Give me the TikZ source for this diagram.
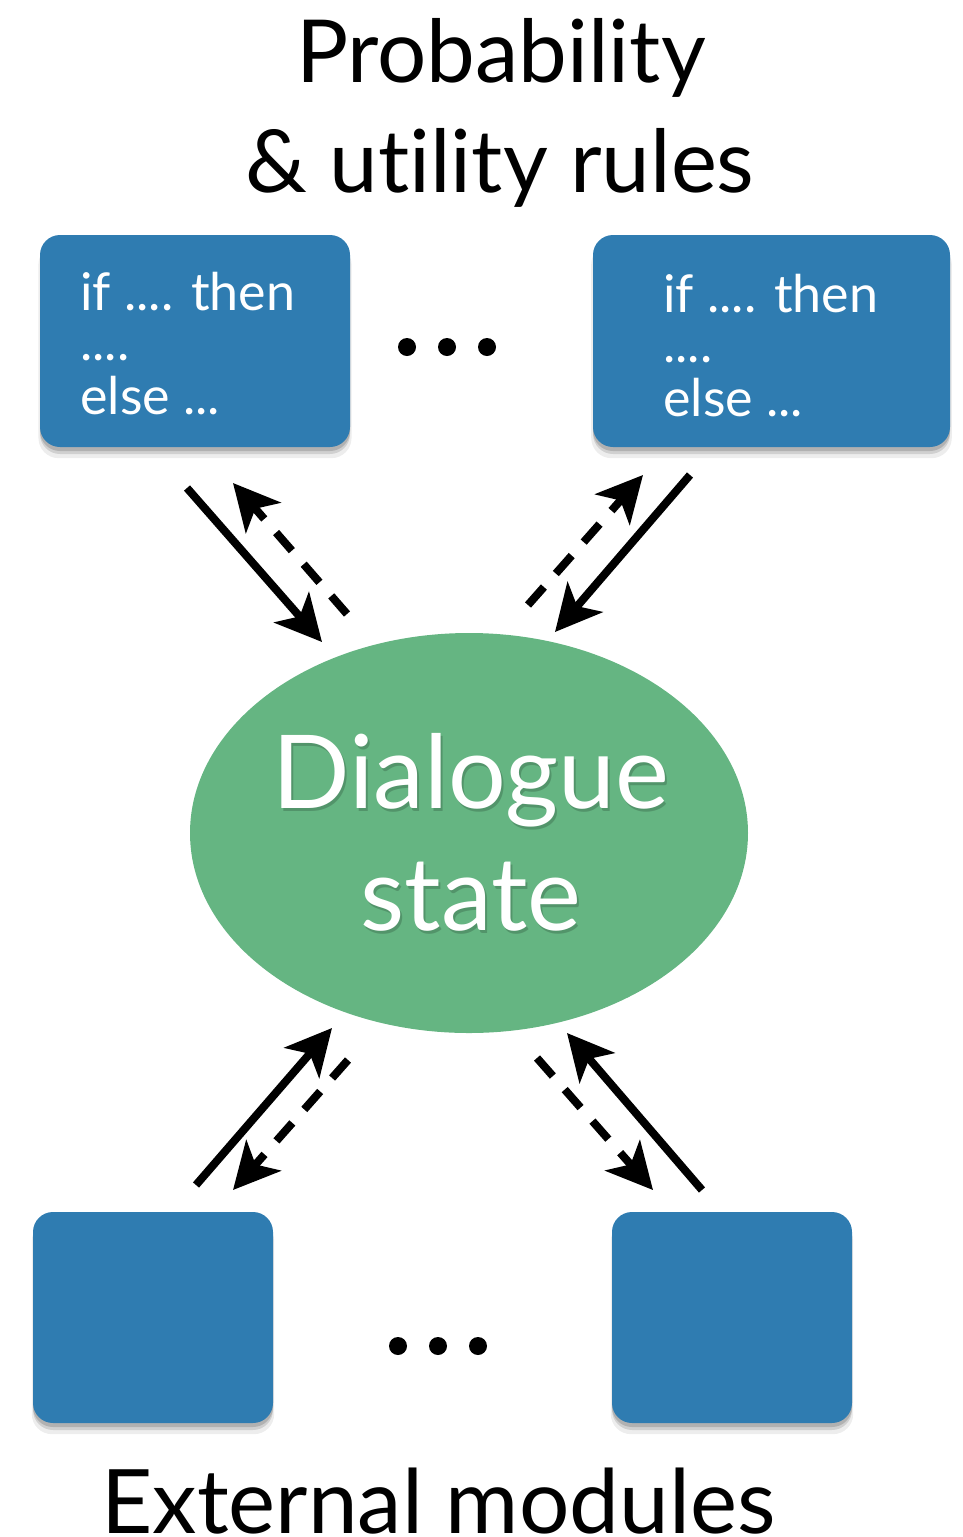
\documentclass[tikz,border=0pt]{standalone}
\usepackage{fontspec}
\setmainfont{Lato}[Ligatures=NoCommon]
\usetikzlibrary{arrows.meta,shadows,shapes.geometric}
\definecolor{boxblue}{RGB}{47,124,177}
\definecolor{stategreen}{RGB}{101,181,130}
\tikzset{
  rulebox/.style={draw=none,fill=boxblue,rounded corners=10pt,inner sep=0pt,
    drop shadow={shadow xshift=0pt,shadow yshift=-5pt,shadow scale=1.01,opacity=0.07,fill=black},
    drop shadow={shadow xshift=0pt,shadow yshift=-3.5pt,opacity=0.12,fill=black},
    drop shadow={shadow xshift=0pt,shadow yshift=-2pt,opacity=0.15,fill=black}},
  boxtext/.style={text=white,font=\fontsize{26}{27}\selectfont,align=left,inner sep=0pt},
  bigtitle/.style={font=\fontsize{43.5}{57}\selectfont,align=center,inner sep=0pt},
  statetext/.style={font=\fontsize{51}{61}\selectfont,anchor=base,inner sep=0pt},
  dotmark/.style={circle,fill=black,inner sep=0pt,minimum size=9pt},
  solidarrow/.style={line width=4pt,-{Stealth[length=23pt,width=23pt,inset=6pt]}},
  dasharrow/.style={line width=4pt,dash pattern=on 12pt off 9pt,-{Stealth[length=23pt,width=23pt,inset=6pt]}},
}
\begin{document}
\begin{tikzpicture}[x=0.5pt,y=-0.5pt]
\useasboundingbox (0,0) rectangle (963,1537);
% title
\node[bigtitle,anchor=base] (t1) at (501,82) {Probability};
\node[bigtitle,anchor=base] (t2) at (500,192) {\& utility rules};
% top boxes
\node[rulebox,minimum width=155pt,minimum height=106pt] (b1) at (195,341) {};
\node[rulebox,minimum width=178.5pt,minimum height=106pt] (b2) at (771.5,341) {};
\node[boxtext,anchor=base west] (b1a) at (80,310) {if .... then};
\node[boxtext,anchor=base west] (b1b) at (80,360) {....};
\node[boxtext,anchor=base west] (b1c) at (80,414) {else ...};
\node[boxtext,anchor=base west] (b2a) at (663,312) {if .... then};
\node[boxtext,anchor=base west] (b2b) at (663,362) {....};
\node[boxtext,anchor=base west] (b2c) at (663,416) {else ...};
% top dots
\node[dotmark] (d1) at (407,347) {};
\node[dotmark] (d2) at (447,347) {};
\node[dotmark] (d3) at (487,347) {};
% ellipse
\node[ellipse,fill=stategreen,minimum width=279pt,minimum height=200pt,inner sep=0pt] (ds) at (469,833) {};
\node[statetext,text=black,opacity=0.18] (ds1s) at (473,811) {Dialogue};
\node[statetext,text=black,opacity=0.18] (ds2s) at (473,933) {state};
\node[statetext,text=white] (ds1) at (471,808) {Dialogue};
\node[statetext,text=white] (ds2) at (471,930) {state};
% bottom boxes
\node[rulebox,minimum width=120pt,minimum height=105.5pt] (m1) at (153,1317.5) {};
\node[rulebox,minimum width=120pt,minimum height=105.5pt] (m2) at (732,1317.5) {};
% bottom dots
\node[dotmark] (e1) at (398,1346) {};
\node[dotmark] (e2) at (438,1346) {};
\node[dotmark] (e3) at (478,1346) {};
% bottom title
\node[font=\fontsize{44.5}{57}\selectfont,inner sep=0pt,anchor=base west] (t3) at (101,1533) {External modules};
% arrow end points
\coordinate (a1s) at (187,488);  \coordinate (a1e) at (322,642);
\coordinate (a1ds) at (347,614); \coordinate (a1de) at (233,483);
\coordinate (a2s) at (690,475);  \coordinate (a2e) at (555,632);
\coordinate (a2ds) at (528,605); \coordinate (a2de) at (643,475);
\coordinate (a3s) at (196,1185); \coordinate (a3e) at (332,1028);
\coordinate (a3ds) at (348,1060);\coordinate (a3de) at (233,1190);
\coordinate (a4s) at (702,1190); \coordinate (a4e) at (567,1033);
\coordinate (a4ds) at (537,1058);\coordinate (a4de) at (653,1190);
\draw[solidarrow] (a1s) -- (a1e);
\draw[dasharrow] (a1ds) -- (a1de);
\draw[solidarrow] (a2s) -- (a2e);
\draw[dasharrow] (a2ds) -- (a2de);
\draw[solidarrow] (a3s) -- (a3e);
\draw[dasharrow] (a3ds) -- (a3de);
\draw[solidarrow] (a4s) -- (a4e);
\draw[dasharrow] (a4ds) -- (a4de);
\end{tikzpicture}
\end{document}
